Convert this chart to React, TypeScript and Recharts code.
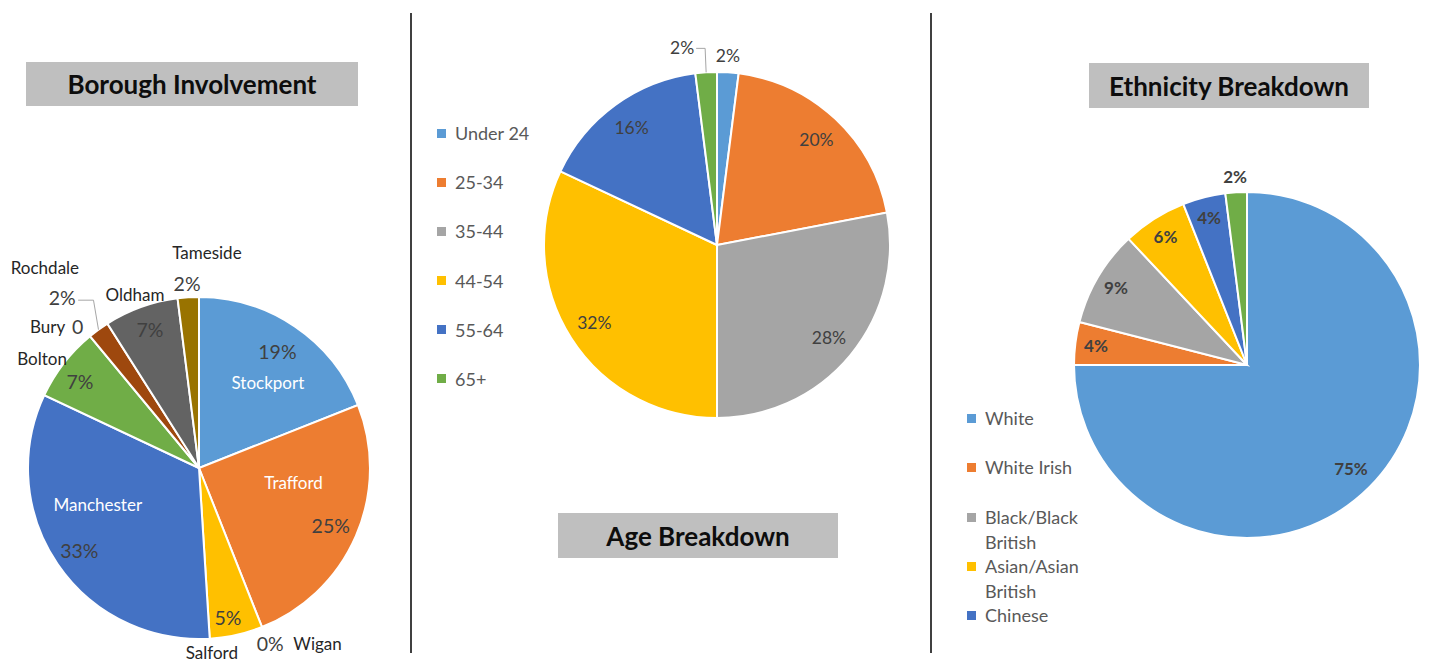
import React from 'react';
import { PieChart, Pie, Cell, Legend } from 'recharts';

// Borough involvement
const boroughNames = ['Stockport', 'Trafford', 'Wigan', 'Salford', 'Manchester', 'Bolton', 'Bury', 'Rochdale', 'Oldham', 'Tameside'];
const boroughValues = [19, 25, 0, 5, 33, 7, 0, 2, 7, 2];

// Age breakdown
const ageNames = ['Under 24', '25-34', '35-44', '44-54', '55-64', '65+'];
const ageValues = [2, 20, 28, 32, 16, 2];

// Ethnicity breakdown (last slice is cut off from the legend in the original)
const ethnicityNames = ['White', 'White Irish', 'Black/Black British', 'Asian/Asian British', 'Chinese', 'Other'];
const ethnicityValues = [75, 4, 9, 6, 4, 2];

const boroughColors = ['#5B9BD5', '#ED7D31', '#A5A5A5', '#FFC000', '#4472C4', '#70AD47', '#255E91', '#9E480E', '#636363', '#997300'];
const ageColors = ['#5B9BD5', '#ED7D31', '#A5A5A5', '#FFC000', '#4472C4', '#70AD47'];
const ethnicityColors = ['#5B9BD5', '#ED7D31', '#A5A5A5', '#FFC000', '#4472C4', '#70AD47'];

const boroughData = boroughNames.map((name, i) => ({ name, value: boroughValues[i] }));
const ageData = ageNames.map((name, i) => ({ name, value: ageValues[i] }));
const ethnicityData = ethnicityNames.map((name, i) => ({ name, value: ethnicityValues[i] }));

const FONT = 'Lato, "Open Sans", sans-serif';
const RAD = Math.PI / 180;
const NO_MARGIN = { top: 0, right: 0, bottom: 0, left: 0 };

const polar = (cx: number, cy: number, r: number, deg: number) => ({
  x: cx + r * Math.cos(deg * RAD),
  y: cy - r * Math.sin(deg * RAD),
});

// label placement for the borough pie: [radius factor, angle in degrees]
type Spot = [number, number];
const boroughLabelLayout: { name: Spot; value: Spot; inside?: boolean; leader?: boolean }[] = [
  { name: [0.64, 51], value: [0.82, 56], inside: true },
  { name: [0.56, -9], value: [0.84, -23.5], inside: true },
  { name: [1.24, -56], value: [1.11, -68] },
  { name: [1.08, -86], value: [0.89, -79] },
  { name: [0.63, 200], value: [0.85, 214.6], inside: true },
  { name: [1.12, 145], value: [0.86, 144] },
  { name: [1.21, 137], value: [1.09, 130.6] },
  { name: [1.48, 127.5], value: [1.28, 128.7], leader: true },
  { name: [1.08, 110.3], value: [0.86, 109.5] },
  { name: [1.26, 87.9], value: [1.08, 93.7] },
];

const renderBoroughLabel = (props: any) => {
  const { cx, cy, outerRadius, midAngle, index, value, name } = props;
  const cfg = boroughLabelLayout[index];
  if (!cfg) return null;
  const n = polar(cx, cy, outerRadius * cfg.name[0], cfg.name[1]);
  const v = polar(cx, cy, outerRadius * cfg.value[0], cfg.value[1]);
  const valueText = name === 'Bury' ? `${value}` : `${value}%`;
  let leader = null;
  if (cfg.leader) {
    const p = polar(cx, cy, outerRadius, midAngle);
    const y = v.y + 3;
    leader = (
      <polyline
        points={`${v.x + 16},${y} ${p.x - 5},${y} ${p.x},${p.y}`}
        fill="none"
        stroke="#A6A6A6"
        strokeWidth={1}
      />
    );
  }
  return (
    <g key={`bl-${index}`}>
      {leader}
      <text
        x={n.x}
        y={n.y}
        textAnchor="middle"
        dominantBaseline="central"
        fill={cfg.inside ? '#FFFFFF' : '#262626'}
        fontSize={17}
        fontFamily={FONT}
      >
        {name}
      </text>
      <text
        x={v.x}
        y={v.y}
        textAnchor="middle"
        dominantBaseline="central"
        fill="#404040"
        fontSize={19.5}
        fontFamily={FONT}
      >
        {valueText}
      </text>
    </g>
  );
};

const renderAgeLabel = (props: any) => {
  const { cx, cy, outerRadius, midAngle, index, value } = props;
  const small = value <= 2;
  // the two small slices sit outside, the 65+ one is pushed left with a leader
  const spot: Spot = index === ageValues.length - 1 ? [1.16, 100] : small ? [1.1, 86.7] : [0.84, midAngle];
  const pos = polar(cx, cy, outerRadius * spot[0], spot[1]);
  let leader = null;
  if (index === ageValues.length - 1) {
    const p = polar(cx, cy, outerRadius, midAngle);
    leader = (
      <polyline
        points={`${pos.x + 14},${pos.y + 1} ${p.x - 1},${pos.y + 1} ${p.x},${p.y}`}
        fill="none"
        stroke="#A6A6A6"
        strokeWidth={1}
      />
    );
  }
  return (
    <g key={`al-${index}`}>
      {leader}
      <text
        x={pos.x}
        y={pos.y}
        textAnchor="middle"
        dominantBaseline="central"
        fill="#404040"
        fontSize={17.5}
        fontFamily={FONT}
      >
        {`${value}%`}
      </text>
    </g>
  );
};

const renderEthnicityLabel = (props: any) => {
  const { cx, cy, outerRadius, midAngle, index, value } = props;
  const rf = value <= 2 ? 1.09 : value > 50 ? 0.85 : 0.88;
  const pos = polar(cx, cy, outerRadius * rf, midAngle);
  return (
    <text
      key={`el-${index}`}
      x={pos.x}
      y={pos.y}
      textAnchor="middle"
      dominantBaseline="central"
      fill="#404040"
      fontSize={17}
      fontWeight={700}
      fontFamily={FONT}
    >
      {`${value}%`}
    </text>
  );
};

function SwatchLegend({ names, colors, rowHeight, lineHeight, textWidth }: {
  names: string[];
  colors: string[];
  rowHeight: number;
  lineHeight: number;
  textWidth: number;
}) {
  return (
    <div style={{ fontFamily: FONT, fontSize: 18, color: '#595959' }}>
      {names.map((n, i) => (
        <div key={n} style={{ height: rowHeight, display: 'flex', alignItems: 'flex-start', overflow: 'visible' }}>
          <div
            style={{
              width: 9,
              height: 9,
              background: colors[i],
              marginTop: (lineHeight - 9) / 2,
              marginRight: 9,
              flexShrink: 0,
            }}
          />
          <div style={{ lineHeight: `${lineHeight}px`, width: textWidth }}>{n}</div>
        </div>
      ))}
    </div>
  );
}

const titleStyle = (left: number, top: number, width: number, height: number): React.CSSProperties => ({
  position: 'absolute',
  left,
  top,
  width,
  height,
  background: '#BFBFBF',
  display: 'flex',
  alignItems: 'center',
  justifyContent: 'center',
  fontFamily: FONT,
  fontWeight: 700,
  fontSize: 26,
  color: '#0D0D0D',
});

const dividerStyle = (left: number): React.CSSProperties => ({
  position: 'absolute',
  left,
  top: 13,
  width: 1.5,
  height: 640,
  background: '#404040',
});

export default function App() {
  return (
    <div style={{ position: 'relative', width: 1429, height: 663, overflow: 'hidden', background: '#fff' }}>
      <style>{'body{margin:0}'}</style>

      {/* Borough */}
      <div style={{ position: 'absolute', left: 0, top: 0 }}>
        <PieChart width={410} height={663} margin={NO_MARGIN}>
          <Pie
            data={boroughData}
            dataKey="value"
            nameKey="name"
            cx={199}
            cy={468}
            outerRadius={171}
            startAngle={90}
            endAngle={-270}
            stroke="#FFFFFF"
            strokeWidth={2}
            label={renderBoroughLabel}
            labelLine={false}
            isAnimationActive={false}
          >
            {boroughData.map((d, i) => (
              <Cell key={d.name} fill={boroughColors[i]} />
            ))}
          </Pie>
        </PieChart>
      </div>
      <div style={titleStyle(26, 62, 332, 44)}>Borough Involvement</div>

      <div style={dividerStyle(410)} />

      {/* Age */}
      <div style={{ position: 'absolute', left: 412, top: 0 }}>
        <PieChart width={518} height={663} margin={NO_MARGIN}>
          <Pie
            data={ageData}
            dataKey="value"
            nameKey="name"
            cx={305}
            cy={245}
            outerRadius={173}
            startAngle={90}
            endAngle={-270}
            stroke="#FFFFFF"
            strokeWidth={2}
            label={renderAgeLabel}
            labelLine={false}
            isAnimationActive={false}
          >
            {ageData.map((d, i) => (
              <Cell key={d.name} fill={ageColors[i]} />
            ))}
          </Pie>
          <Legend
            layout="vertical"
            wrapperStyle={{ left: 25, top: 121, width: 140, bottom: 'auto', right: 'auto' }}
            content={() => (
              <SwatchLegend names={ageNames} colors={ageColors} rowHeight={49.2} lineHeight={24} textWidth={110} />
            )}
          />
        </PieChart>
      </div>
      <div style={titleStyle(558, 513, 280, 45)}>Age Breakdown</div>

      <div style={dividerStyle(930)} />

      {/* Ethnicity */}
      <div style={{ position: 'absolute', left: 932, top: 0 }}>
        <PieChart width={497} height={663} margin={NO_MARGIN}>
          <Pie
            data={ethnicityData}
            dataKey="value"
            nameKey="name"
            cx={315}
            cy={365}
            outerRadius={173}
            startAngle={90}
            endAngle={-270}
            stroke="#FFFFFF"
            strokeWidth={2}
            label={renderEthnicityLabel}
            labelLine={false}
            isAnimationActive={false}
          >
            {ethnicityData.map((d, i) => (
              <Cell key={d.name} fill={ethnicityColors[i]} />
            ))}
          </Pie>
          <Legend
            layout="vertical"
            wrapperStyle={{ left: 35, top: 406, width: 150, bottom: 'auto', right: 'auto' }}
            content={() => (
              <SwatchLegend
                names={ethnicityNames.slice(0, 5)}
                colors={ethnicityColors}
                rowHeight={49.3}
                lineHeight={25}
                textWidth={118}
              />
            )}
          />
        </PieChart>
      </div>
      <div style={titleStyle(1089, 63, 280, 45)}>Ethnicity Breakdown</div>
    </div>
  );
}
